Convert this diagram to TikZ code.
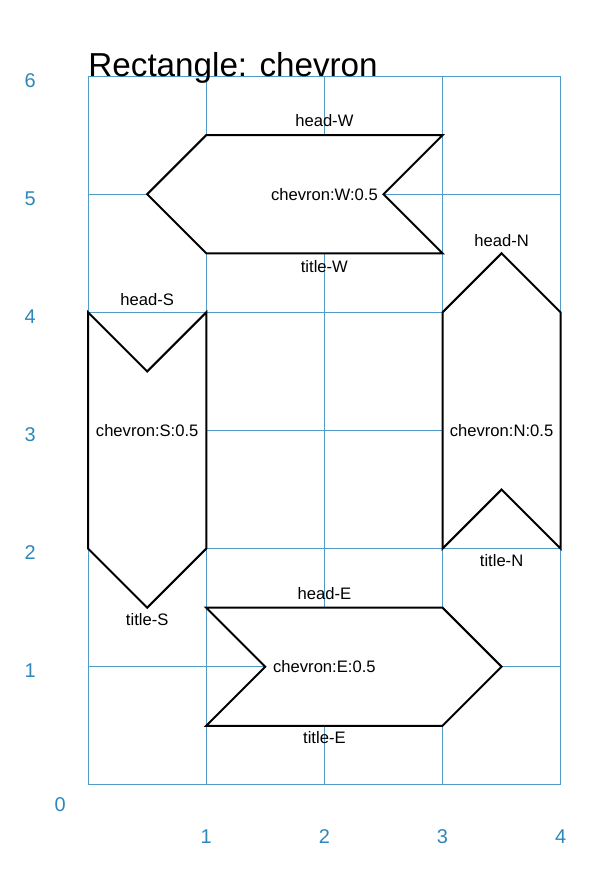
\documentclass[tikz,border=0pt]{standalone}
\usepackage{fontspec}
\setmainfont{Liberation Sans}
\definecolor{gridc}{RGB}{80,155,200}
\definecolor{axisc}{RGB}{45,135,185}
\begin{document}
\begin{tikzpicture}[x=2.5cm,y=2.5cm,
  gridline/.style={draw=gridc,line width=0.6pt},
  chev/.style={draw=black,fill=white,line width=1.2pt,line join=miter},
  lbl/.style={font=\fontsize{10}{12}\selectfont,inner sep=0pt},
  axlbl/.style={font=\fontsize{12}{14}\selectfont,text=axisc,inner sep=0pt}]
\useasboundingbox (-0.746,-0.763) rectangle (4.466,6.644);
% grid
\foreach \i in {0,...,4} \draw[gridline] (\i,0) -- (\i,6);
\foreach \j in {0,...,6} \draw[gridline] (0,\j) -- (4,\j);
% axis labels
\node[axlbl] (ax0) at (-0.237,-0.17) {0};
\foreach \i in {1,...,4} \node[axlbl] (axx\i) at (\i,-0.44) {\i};
\foreach \j in {1,...,6} \node[axlbl] (axy\j) at (-0.49,\j-0.035) {\j};
% title
\node[anchor=base west,inner sep=0pt,font=\fontsize{20}{24}\selectfont] (title) at (0,6) {Rectangle: chevron};
% W
\draw[chev] (1,5.5) -- (3,5.5) -- (2.5,5) -- (3,4.5) -- (1,4.5) -- (0.5,5) -- cycle;
\node[lbl] (cW) at (2,5) {chevron:W:0.5};
\node[lbl] (hW) at (2,5.62) {head-W};
\node[lbl] (tW) at (2,4.39) {title-W};
% S
\draw[chev] (0,4) -- (0.5,3.5) -- (1,4) -- (1,2) -- (0.5,1.5) -- (0,2) -- cycle;
\node[lbl] (cS) at (0.5,3) {chevron:S:0.5};
\node[lbl] (hS) at (0.5,4.11) {head-S};
\node[lbl] (tS) at (0.5,1.40) {title-S};
% N
\draw[chev] (3,4) -- (3.5,4.5) -- (4,4) -- (4,2) -- (3.5,2.5) -- (3,2) -- cycle;
\node[lbl] (cN) at (3.5,3) {chevron:N:0.5};
\node[lbl] (hN) at (3.5,4.61) {head-N};
\node[lbl] (tN) at (3.5,1.90) {title-N};
% E
\draw[chev] (1,1.5) -- (3,1.5) -- (3.5,1) -- (3,0.5) -- (1,0.5) -- (1.5,1) -- cycle;
\node[lbl] (cE) at (2,1) {chevron:E:0.5};
\node[lbl] (hE) at (2,1.62) {head-E};
\node[lbl] (tE) at (2,0.40) {title-E};
\end{tikzpicture}
\end{document}
